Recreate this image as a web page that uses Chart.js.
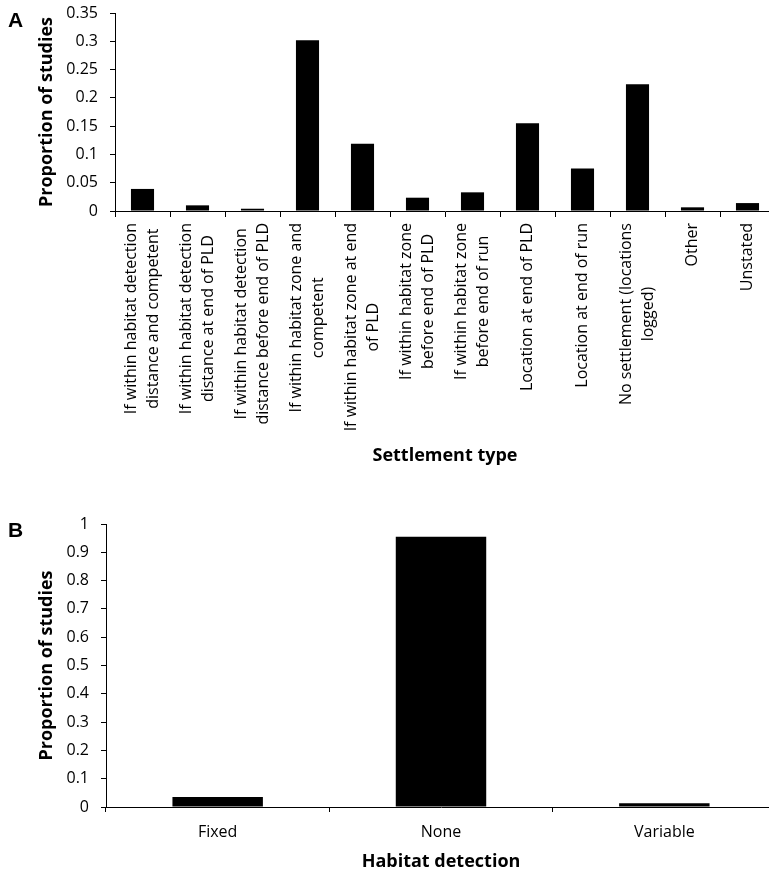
<!DOCTYPE html>
<html>
<head>
<meta charset="utf-8">
<script src="https://cdn.jsdelivr.net/npm/chart.js@4.4.0/dist/chart.umd.min.js"></script>
<style>
    html, body { margin: 0; padding: 0; background: #fff; overflow: hidden; width: 769px; height: 873px; }
    .panel { position: absolute; left: 0; }
    .tag { position: absolute; left: 8px; font: bold 21px "Liberation Sans", Arial, sans-serif; line-height: 1; color: #000; }
</style>
</head>
<body>
<canvas id="chartA" class="panel" width="776" height="475" style="top:0"></canvas>
<canvas id="chartB" class="panel" width="776" height="395" style="top:480px"></canvas>
<div class="tag" style="top:9px">A</div>
<div class="tag" style="top:519px">B</div>
<script>
// panel A - settlement type
const settlementTypes = [
    ['If within habitat detection', 'distance and competent'],
    ['If within habitat detection', 'distance at end of PLD'],
    ['If within habitat detection', 'distance before end of PLD'],
    ['If within habitat zone and', 'competent'],
    ['If within habitat zone at end', 'of PLD'],
    ['If within habitat zone', 'before end of PLD'],
    ['If within habitat zone', 'before end of run'],
    ['Location at end of PLD'],
    ['Location at end of run'],
    ['No settlement (locations', 'logged)'],
    ['Other'],
    ['Unstated']
];
const settlementProportion = [0.039, 0.01, 0.004, 0.302, 0.119, 0.0235, 0.033, 0.155, 0.075, 0.224, 0.0065, 0.014];
const settlementTicks = [0, 0.05, 0.1, 0.15, 0.2, 0.25, 0.3, 0.35];

// panel B - habitat detection
const detectionTypes = ['Fixed', 'None', 'Variable'];
const detectionProportion = [0.035, 0.955, 0.013];
const detectionTicks = [0, 0.1, 0.2, 0.3, 0.4, 0.5, 0.6, 0.7, 0.8, 0.9, 1];

Chart.defaults.font.family = '"Open Sans", sans-serif';
Chart.defaults.color = '#000';

// rotated category labels, lines centred like the original
const centeredLabels = {
    id: 'centeredLabels',
    afterDraw(chart) {
        const scale = chart.scales.x;
        const ctx = chart.ctx;
        const lineHeight = 22;
        ctx.save();
        ctx.font = '16px "Open Sans", sans-serif';
        ctx.fillStyle = '#000';
        ctx.textAlign = 'center';
        ctx.textBaseline = 'middle';
        chart.data.labels.forEach(function(lines, i) {
            const x = scale.getPixelForValue(i);
            const longest = Math.max.apply(null, lines.map(l => ctx.measureText(l).width));
            const cy = scale.top + 12 + longest / 2;
            lines.forEach(function(line, j) {
                ctx.save();
                ctx.translate(x + (j - (lines.length - 1) / 2) * lineHeight, cy);
                ctx.rotate(-Math.PI / 2);
                ctx.fillText(line, 0, 0);
                ctx.restore();
            });
        });
        ctx.restore();
    }
};

function yAxis(tickList, width) {
    return {
        min: 0,
        max: tickList[tickList.length - 1],
        afterBuildTicks: s => { s.ticks = tickList.map(v => ({ value: v })); },
        afterFit: s => {
            s.width = width;
            s.paddingTop = 0;
            s.paddingBottom = 0;
        },
        ticks: { font: { size: 16 }, padding: 12, callback: v => String(+v.toFixed(2)) },
        grid: { drawOnChartArea: false, color: '#000', tickLength: 5 },
        border: { color: '#000' },
        title: {
            display: true,
            text: 'Proportion of studies',
            font: { size: 18, weight: 'bold' },
            padding: { top: 36, bottom: 0 }
        }
    };
}

function chartA() {
    new Chart(document.getElementById('chartA'), {
        type: 'bar',
        data: {
            labels: settlementTypes,
            datasets: [{
                data: settlementProportion,
                backgroundColor: '#000',
                barPercentage: 0.42,
                categoryPercentage: 1
            }]
        },
        options: {
            responsive: false,
            animation: false,
            layout: { padding: { top: 13, right: 1, bottom: 0, left: 0 } },
            plugins: { legend: { display: false }, tooltip: { enabled: false } },
            scales: {
                x: {
                    afterFit: s => { s.height = 264; },
                    ticks: { display: false },
                    grid: { offset: true, drawOnChartArea: false, color: '#000', tickLength: 6 },
                    border: { color: '#000' },
                    title: {
                        display: true,
                        text: 'Settlement type',
                        font: { size: 18, weight: 'bold' },
                        padding: { top: 0, bottom: 8 }
                    }
                },
                y: yAxis(settlementTicks, 115)
            }
        },
        plugins: [centeredLabels]
    });
}

function chartB() {
    new Chart(document.getElementById('chartB'), {
        type: 'bar',
        data: {
            labels: detectionTypes,
            datasets: [{
                data: detectionProportion,
                backgroundColor: '#000',
                barPercentage: 0.405,
                categoryPercentage: 1
            }]
        },
        options: {
            responsive: false,
            animation: false,
            layout: { padding: { top: 44, right: 0, bottom: 0, left: 0 } },
            plugins: { legend: { display: false }, tooltip: { enabled: false } },
            scales: {
                x: {
                    afterFit: s => { s.height = 68; },
                    ticks: { font: { size: 16 }, padding: 11, maxRotation: 0 },
                    grid: { offset: true, drawOnChartArea: false, color: '#000', tickLength: 5 },
                    border: { color: '#000' },
                    title: {
                        display: true,
                        text: 'Habitat detection',
                        font: { size: 18, weight: 'bold' },
                        padding: { top: 0, bottom: 2 }
                    }
                },
                y: yAxis(detectionTicks, 106)
            }
        }
    });
}

window.addEventListener('load', function() {
    chartA();
    chartB();
});
</script>
</body>
</html>
